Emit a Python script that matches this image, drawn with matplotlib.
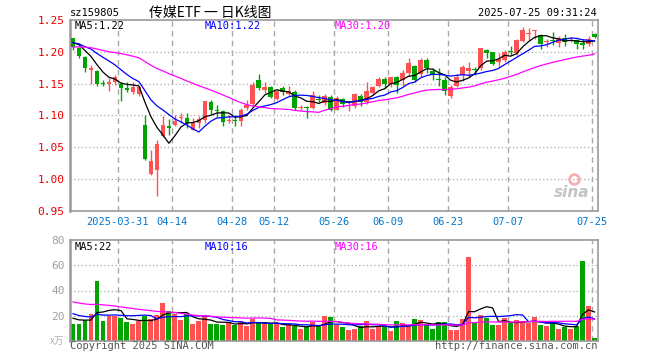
import numpy as np
import pandas as pd
import matplotlib
matplotlib.use('Agg')
import matplotlib.pyplot as plt

# daily K-line for sz159805, 2025-03-19 .. 2025-07-25 (88 sessions)
opens = [1.221, 1.206, 1.192, 1.172, 1.170, 1.151, 1.150, 1.153, 1.150, 1.143,
         1.137, 1.133, 1.085, 1.0085, 1.014, 1.068, 1.083, 1.085, 1.0955, 1.0955,
         1.078, 1.089, 1.093, 1.121, 1.108, 1.107, 1.092, 1.092, 1.091, 1.112,
         1.118, 1.156, 1.1405, 1.1446, 1.1265, 1.143, 1.1337, 1.137, 1.1125, 1.113,
         1.112, 1.126, 1.120, 1.1286, 1.1094, 1.126, 1.119, 1.1156, 1.131, 1.1208,
         1.1353, 1.1457, 1.1576, 1.150, 1.161, 1.155, 1.1664, 1.1777, 1.1648, 1.187,
         1.1705, 1.157, 1.155, 1.130, 1.147, 1.1638, 1.1705, 1.1725, 1.174, 1.2026,
         1.200, 1.1845, 1.187, 1.200, 1.1974, 1.217, 1.228, 1.232, 1.226, 1.216,
         1.218, 1.214, 1.2222, 1.2175, 1.218, 1.2145, 1.2119, 1.2284]
highs = [1.222, 1.207, 1.193, 1.180, 1.171, 1.156, 1.159, 1.164, 1.152, 1.153,
         1.152, 1.146, 1.101, 1.046, 1.062, 1.099, 1.094, 1.100, 1.104, 1.104,
         1.0965, 1.099, 1.123, 1.124, 1.117, 1.109, 1.100, 1.100, 1.112, 1.125,
         1.152, 1.165, 1.152, 1.1467, 1.1405, 1.1457, 1.1457, 1.1405, 1.117, 1.1145,
         1.138, 1.1327, 1.134, 1.1317, 1.131, 1.1275, 1.1224, 1.135, 1.134, 1.1534,
         1.1467, 1.161, 1.161, 1.161, 1.162, 1.1715, 1.1907, 1.179, 1.191, 1.1897,
         1.174, 1.174, 1.161, 1.148, 1.1645, 1.1793, 1.1845, 1.1767, 1.2062, 1.205,
         1.2005, 1.1974, 1.2026, 1.2088, 1.2207, 1.2388, 1.2378, 1.2347, 1.2285, 1.2207,
         1.231, 1.2243, 1.2285, 1.223, 1.2207, 1.2207, 1.2243, 1.2295]
lows = [1.203, 1.191, 1.168, 1.150, 1.146, 1.147, 1.138, 1.148, 1.122, 1.137,
        1.133, 1.131, 1.030, 1.006, 0.973, 1.067, 1.069, 1.083, 1.089, 1.081,
        1.077, 1.081, 1.0885, 1.103, 1.098, 1.0835, 1.089, 1.0835, 1.0835, 1.109,
        1.1146, 1.1405, 1.135, 1.1275, 1.125, 1.1327, 1.130, 1.109, 1.108, 1.0954,
        1.1105, 1.1208, 1.117, 1.1068, 1.108, 1.1136, 1.107, 1.112, 1.1146, 1.1187,
        1.1327, 1.1446, 1.143, 1.1446, 1.135, 1.1467, 1.162, 1.1534, 1.161, 1.1664,
        1.156, 1.1467, 1.1327, 1.1275, 1.145, 1.1545, 1.160, 1.1638, 1.1715, 1.1907,
        1.179, 1.1767, 1.1845, 1.1948, 1.1948, 1.2155, 1.218, 1.2207, 1.205, 1.2078,
        1.2103, 1.2078, 1.2088, 1.2155, 1.2052, 1.2052, 1.2088, 1.2222]
closes = [1.208, 1.193, 1.174, 1.174, 1.150, 1.150, 1.152, 1.160, 1.1425, 1.140,
          1.145, 1.145, 1.032, 1.029, 1.056, 1.085, 1.080, 1.091, 1.0965, 1.089,
          1.088, 1.095, 1.122, 1.108, 1.1065, 1.090, 1.093, 1.091, 1.109, 1.117,
          1.148, 1.143, 1.1446, 1.129, 1.138, 1.1363, 1.138, 1.112, 1.1135, 1.112,
          1.1327, 1.1245, 1.131, 1.1094, 1.1276, 1.1187, 1.120, 1.1337, 1.1208, 1.1379,
          1.144, 1.1576, 1.150, 1.160, 1.148, 1.1674, 1.183, 1.156, 1.187, 1.174,
          1.1638, 1.156, 1.139, 1.144, 1.161, 1.1767, 1.174, 1.1715, 1.206, 1.1985,
          1.1803, 1.188, 1.200, 1.199, 1.218, 1.2336, 1.2295, 1.233, 1.213, 1.217,
          1.2175, 1.222, 1.2155, 1.218, 1.2129, 1.2114, 1.2207, 1.2233]
volumes = [13.3, 13.3, 17.0, 21.3, 47.7, 15.5, 19.7, 19.7, 17.9, 14.9,
           13.3, 15.7, 19.5, 17.6, 20.3, 30.1, 23.7, 21.3, 16.5, 21.3,
           13.3, 15.5, 19.5, 13.3, 13.3, 12.8, 14.9, 12.8, 15.5, 11.7,
           17.6, 14.4, 13.3, 13.3, 13.3, 10.9, 13.1, 11.7, 9.3, 11.2,
           14.9, 11.5, 19.7, 18.7, 12.3, 10.7, 9.1, 9.9, 11.5, 15.5,
           9.9, 11.5, 10.7, 8.3, 15.5, 13.9, 11.5, 17.1, 16.3, 12.3,
           9.9, 14.7, 14.7, 9.1, 9.1, 17.1, 66.7, 13.9, 20.3, 17.9,
           12.3, 12.3, 17.9, 13.9, 16.3, 14.7, 13.9, 18.7, 12.3, 11.5,
           14.7, 9.9, 10.7, 9.9, 11.5, 63.5, 27.5, 2.7]

# sessions before the window, only used to warm up the moving averages
pre_close = [1.18, 1.19, 1.20, 1.21, 1.22, 1.21, 1.20, 1.19, 1.20, 1.21,
             1.22, 1.21, 1.20, 1.21, 1.20, 1.21, 1.20, 1.21, 1.21, 1.20,
             1.21, 1.22, 1.21, 1.22, 1.21, 1.21, 1.22, 1.22, 1.215]
pre_vol = [42, 38, 35, 40, 33, 30, 36, 39, 34, 31,
           37, 35, 33, 38, 36, 34, 32, 37, 35, 39,
           28, 24, 26, 25, 23, 20, 18, 21, 18]

date_ticks = [8, 17, 27, 34, 44, 53, 63, 73, 87]
date_labels = ['2025-03-31', '04-14', '04-28', '05-12', '05-26',
               '06-09', '06-23', '07-07', '07-25']
price_ticks = [0.95, 1.00, 1.05, 1.10, 1.15, 1.20, 1.25]
vol_ticks = [20, 40, 60, 80]
price_ma_text = ['MA5:1.22', 'MA10:1.22', 'MA30:1.20']
vol_ma_text = ['MA5:22', 'MA10:16', 'MA30:16']

RED = '#ff5252'
GREEN = '#00a300'
MA_COLORS = ['#000000', '#0000ff', '#ff00ff']
GRID = '#aaaaaa'
MONO = 'DejaVu Sans Mono'

n = len(closes)
x = np.arange(n)
o = np.array(opens); c = np.array(closes)
colors = [RED if cc >= oo else GREEN for oo, cc in zip(o, c)]

all_close = pd.Series(pre_close + closes)
all_vol = pd.Series(pre_vol + volumes)
k = len(pre_close)
price_ma = [all_close.rolling(w).mean().values[k:] for w in (5, 10, 30)]
vol_ma = [all_vol.rolling(w).mean().values[k:] for w in (5, 10, 30)]

fig = plt.figure(figsize=(6.6, 3.6), dpi=100)


def px_axes(l, t, r, b):
    return fig.add_axes([l / 660, 1 - b / 360, (r - l) / 660, (b - t) / 360])


def px_text(xp, yp, s, **kw):
    fig.text(xp / 660, 1 - yp / 360, s, **kw)


ax = px_axes(70, 20, 597.5, 211)
axv = px_axes(70, 240, 597.5, 341)

for a in (ax, axv):
    for sp in a.spines.values():
        sp.set_color('#999999')
        sp.set_linewidth(1.2)
    a.spines['left'].set_linewidth(1.8)
    a.set_xlim(-0.5, n - 0.5)
    a.tick_params(length=0)
    for t in date_ticks:
        a.axvline(t - 0.5, color=GRID, lw=1, ls=(0, (4, 3)), zorder=0)

# price panel
for p in price_ticks[1:-1]:
    ax.axhline(p, color=GRID, lw=0.9, ls=(0, (1, 2)), zorder=0)
ax.vlines(x, lows, highs, color=colors, lw=1, zorder=2)
ax.bar(x, np.maximum(np.abs(c - o), 0.0016), bottom=np.minimum(o, c),
       width=0.78, color=colors, linewidth=0, zorder=3)
for ma, col in zip(price_ma, MA_COLORS):
    ax.plot(x, ma, color=col, lw=0.9, zorder=4)
ax.set_ylim(0.95, 1.25)
ax.set_yticks(price_ticks, [f'{p:.2f}' for p in price_ticks],
              color='#ee0000', fontsize=8, family=MONO)
ax.set_xticks([t - 0.5 for t in date_ticks], date_labels,
              color='#0077cc', fontsize=7.5, family=MONO)
ax.tick_params(axis='x', pad=4)
ax.tick_params(axis='y', pad=4)

# sina watermark
ax.text(0.985, 0.06, 'sina', transform=ax.transAxes, ha='right', va='bottom',
        fontsize=11, fontweight='bold', style='italic', color='#c4c4c4', zorder=1)
ax.plot([0.955], [0.17], marker='o', ms=7, mfc='none', mec='#f3b0b0', mew=2,
        transform=ax.transAxes, zorder=1)

# volume panel
for v in vol_ticks[:-1]:
    axv.axhline(v, color=GRID, lw=0.9, ls=(0, (1, 2)), zorder=0)
axv.bar(x, volumes, width=0.82, color=colors, linewidth=0, zorder=2)
for ma, col in zip(vol_ma, MA_COLORS):
    axv.plot(x, ma, color=col, lw=0.9, zorder=3)
axv.set_ylim(0, 80)
axv.set_xticks([])
axv.set_yticks(vol_ticks, [str(v) for v in vol_ticks],
               color='#a0a0a0', fontsize=8, family=MONO)
axv.tick_params(axis='y', pad=4)

# texts
px_text(70, 13, 'sz159805', fontsize=7.5, family=MONO, va='center', ha='left')
px_text(210, 13, '传媒ETF 一 日K线图', fontsize=10,
        family=['Noto Sans CJK SC', 'DejaVu Sans'], va='center', ha='center')
px_text(597, 13, '2025-07-25 09:31:24', fontsize=7.5, family=MONO,
        va='center', ha='right')
for xp, s, col in zip((75, 205, 335), price_ma_text, MA_COLORS):
    px_text(xp, 26, s, fontsize=7.5, family=MONO, color=col, va='center')
for xp, s, col in zip((75, 205, 335), vol_ma_text, MA_COLORS):
    px_text(xp, 246.5, s, fontsize=7.5, family=MONO, color=col, va='center')
px_text(64, 341, 'x万', fontsize=7, style='italic', color='#b0b0b0',
        family=['Noto Sans CJK SC', 'DejaVu Sans'], va='center', ha='right')
px_text(70, 346, 'Copyright 2025 SINA.COM', fontsize=7.5, family=MONO,
        color='#555555', va='center', ha='left')
px_text(597, 346, 'http://finance.sina.com.cn', fontsize=7.5, family=MONO,
        color='#555555', va='center', ha='right')

fig.savefig('out.png', dpi=100, facecolor='white')
